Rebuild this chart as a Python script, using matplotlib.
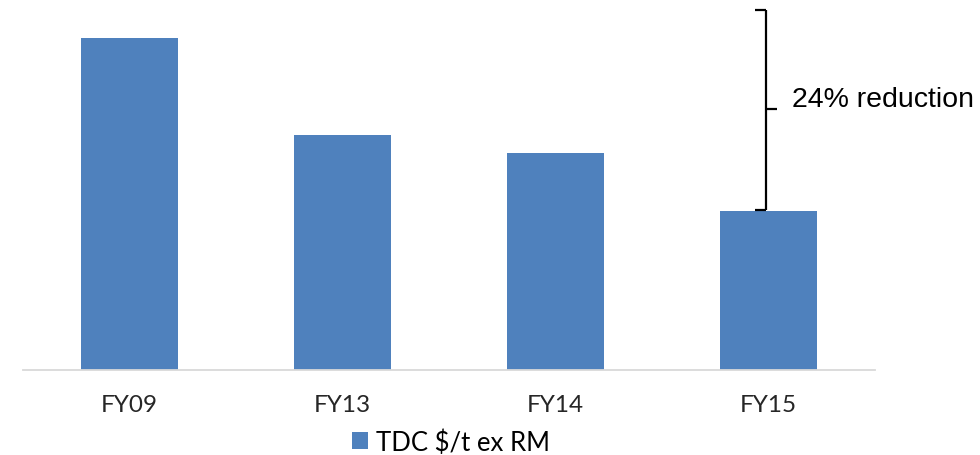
import matplotlib
matplotlib.use("Agg")
import matplotlib.pyplot as plt
from matplotlib.lines import Line2D

# Total delivered cost per tonne, excluding raw materials (indexed, FY09 = 100)
categories = ["FY09", "FY13", "FY14", "FY15"]
tdc_values = [100.0, 86.6, 84.1, 76.0]
series_name = "TDC $/t ex RM"
reduction_label = "24% reduction"

bar_color = "#4F81BD"

fig = plt.figure(figsize=(9.8, 4.56), dpi=100)
ax = fig.add_axes([23 / 980, 1 - 371 / 456, (875 - 23) / 980, 371 / 456])

x = list(range(len(categories)))
ax.bar(x, tdc_values, width=0.46, color=bar_color, label=series_name, zorder=2)

ax.set_xlim(-0.5, len(categories) - 0.5)
ax.set_ylim(54, 105.4)
ax.set_xticks(x)
ax.set_xticklabels(categories, fontsize=17.5, family=["Lato", "DejaVu Sans"], color="#262626")
ax.tick_params(axis="x", length=0, pad=17)
ax.set_yticks([])
for side in ("left", "right", "top"):
    ax.spines[side].set_visible(False)
ax.spines["bottom"].set_color("#d9d9d9")
ax.spines["bottom"].set_linewidth(1.3)

# Legend centred under the plot
fig.legend(loc="center", bbox_to_anchor=(451 / 980, 1 - 443 / 456),
           frameon=False, handlelength=0.62, handleheight=0.62, handletextpad=0.3,
           prop={"family": ["Lato", "DejaVu Sans"], "size": 18.5})

# Curly bracket marking the cost reduction
def fx(px):
    return px / 980

def fy(py):
    return 1 - py / 456

bracket = [
    ((755, 11), (766, 11)),
    ((766, 11), (766, 211)),
    ((755, 211), (766, 211)),
    ((766, 110), (777, 110)),
]
for (x0, y0), (x1, y1) in bracket:
    fig.add_artist(Line2D([fx(x0), fx(x1)], [fy(y0), fy(y1)],
                          transform=fig.transFigure, color="black",
                          linewidth=1.6, solid_capstyle="butt"))

fig.text(fx(792), fy(107), reduction_label, fontsize=20.5,
         family=["Liberation Sans", "DejaVu Sans"], va="baseline", ha="left",
         color="black")

fig.savefig("out.png", dpi=100)
